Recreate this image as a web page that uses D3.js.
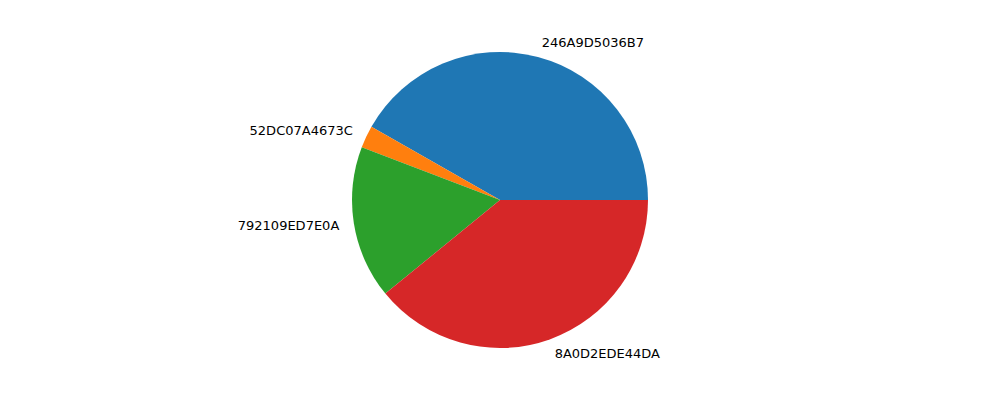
<!DOCTYPE html>
<html>
<head>
<meta charset="utf-8">
<script src="https://cdn.jsdelivr.net/npm/d3@7"></script>
<style>
  body { margin: 0; background: #fff; }
</style>
</head>
<body>
<div id="chart"></div>
<script>
// Pie slices, counter-clockwise from 3 o'clock
const labels = ["246A9D5036B7", "52DC07A4673C", "792109ED7E0A", "8A0D2EDE44DA"];
const values = [41.75, 2.44, 16.7, 39.1];
const colors = ["#1f77b4", "#ff7f0e", "#2ca02c", "#d62728"];

const width = 1000, height = 400;
const cx = 500, cy = 200, radius = 148;

const svg = d3.select("#chart")
    .append("svg")
    .attr("width", width)
    .attr("height", height);

const g = svg.append("g")
    .attr("transform", `translate(${cx},${cy})`);

const pie = d3.pie()
    .sort(null)
    .startAngle(Math.PI / 2)
    .endAngle(Math.PI / 2 - 2 * Math.PI);

const arcs = pie(values);
const arc = d3.arc().innerRadius(0).outerRadius(radius);

g.selectAll("path.slice")
    .data(arcs)
    .join("path")
    .attr("class", "slice")
    .attr("d", arc)
    .attr("fill", (d, i) => colors[i]);

g.selectAll("text.label")
    .data(arcs)
    .join("text")
    .attr("class", "label")
    .each(function (d, i) {
        const a = (d.startAngle + d.endAngle) / 2;
        const x = radius * 1.1 * Math.sin(a);
        const y = -radius * 1.1 * Math.cos(a);
        d3.select(this)
            .attr("x", x)
            .attr("y", y)
            .attr("dy", "0.35em")
            .attr("text-anchor", x < 0 ? "end" : "start")
            .text(labels[i]);
    })
    .style("font-family", "DejaVu Sans, sans-serif")
    .style("font-size", "13px")
    .attr("fill", "#000");
</script>
</body>
</html>
